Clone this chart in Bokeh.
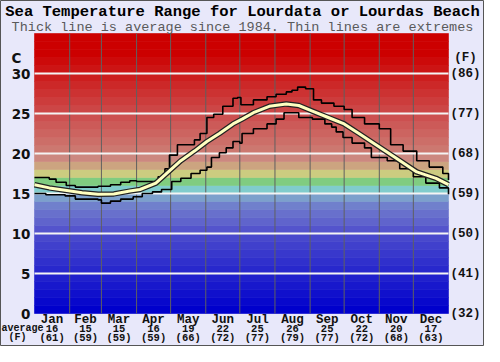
from bokeh.plotting import figure
from bokeh.models import Range1d
from bokeh.core.properties import value
from bokeh.embed import file_html
from bokeh.resources import INLINE

# ---------------- data ----------------
months = ["Jan", "Feb", "Mar", "Apr", "May", "Jun", "Jul", "Aug", "Sep", "Oct", "Nov", "Dec"]
month_days = [31, 28, 31, 30, 31, 30, 31, 31, 30, 31, 30, 31]
avg_c = [16, 15, 15, 16, 19, 22, 25, 26, 25, 22, 20, 17]
avg_f = [61, 59, 59, 59, 66, 72, 77, 79, 77, 72, 68, 63]

c_ticks = [0, 5, 10, 15, 20, 25, 30]
f_labels = ["(32)", "(41)", "(50)", "(59)", "(68)", "(77)", "(86)"]

days_max = [0, 13, 19, 28, 36, 56, 67, 76, 84, 90, 104, 109, 115, 119, 126, 141, 146,
            152, 158, 166, 175, 179, 182, 193, 205, 213, 222, 227, 232, 239, 246, 253,
            264, 273, 280, 291, 304, 314, 325, 337, 348, 360, 365]
temp_max = [17.0, 16.8, 16.4, 16.0, 15.8, 15.9, 16.1, 16.4, 16.6, 16.5, 16.5, 17.1, 18.1,
            19.8, 21.1, 21.7, 22.5, 24.5, 24.9, 25.9, 26.9, 27.0, 26.1, 26.7, 27.1, 27.4,
            27.7, 27.9, 28.3, 28.1, 26.7, 26.3, 25.9, 25.5, 24.5, 23.7, 23.1, 21.1, 20.3,
            19.1, 18.3, 17.5, 16.7]

days_min = [0, 10, 27, 36, 56, 59, 67, 76, 87, 95, 104, 112, 121, 129, 138, 146, 152,
            156, 163, 169, 175, 181, 183, 193, 205, 213, 220, 230, 233, 245, 256, 262,
            266, 272, 280, 291, 297, 311, 322, 334, 345, 357, 365]
temp_min = [15.0, 14.85, 14.7, 14.3, 14.2, 13.8, 14.05, 14.3, 14.6, 15.0, 15.2, 15.5, 16.5,
            16.9, 17.5, 17.9, 18.3, 19.5, 20.1, 20.7, 21.5, 21.3, 22.5, 23.1, 23.7, 24.3,
            25.1, 25.1, 24.5, 24.3, 23.7, 23.3, 22.7, 22.0, 21.3, 20.7, 19.5, 19.1, 18.1,
            17.1, 16.3, 15.7, 14.9]

days_avg = [0, 13, 27, 42, 56, 70, 84, 93, 107, 118, 129, 141, 152, 163, 175, 183, 193,
            207, 222, 233, 245, 259, 273, 286, 303, 320, 337, 354, 365]
temp_avg = [16.1, 15.7, 15.4, 15.1, 14.9, 14.95, 15.3, 15.5, 16.3, 17.7, 19.1, 20.3, 21.5,
            22.5, 23.7, 24.3, 25.1, 25.9, 26.2, 26.0, 25.3, 24.5, 23.7, 22.5, 20.9, 19.3,
            17.7, 16.9, 16.1]

# colour of each 1-degree band, 0..34 C
band_rgb = [(0, 0, 204), (8, 8, 204), (16, 16, 204), (24, 24, 204), (32, 32, 204),
            (40, 40, 204), (48, 48, 204), (56, 56, 204), (64, 64, 204), (72, 72, 204),
            (84, 84, 204), (96, 100, 204), (104, 112, 204), (112, 128, 204), (124, 160, 204),
            (128, 204, 204), (128, 204, 128), (204, 204, 128), (204, 164, 128), (204, 136, 128),
            (204, 120, 112), (204, 110, 104), (204, 100, 96), (204, 90, 88), (204, 80, 80),
            (204, 70, 70), (204, 60, 60), (204, 50, 50), (204, 40, 40), (204, 30, 30),
            (204, 20, 20), (204, 10, 10), (204, 0, 0), (204, 0, 0), (204, 0, 0)]

# ---------------- figure ----------------
W, H = 484, 346
L, R, T, B = 34, 36, 33, 33           # margins around the coloured area (px)
PX_X = (W - L - R) / 365.0
PX_Y = (H - T - B) / 35.0

BG = "#e8e8fa"
p = figure(width=W, height=H,
           x_range=Range1d(-L / PX_X, 365 + R / PX_X),
           y_range=Range1d(-B / PX_Y, 35 + T / PX_Y),
           x_axis_type=None, y_axis_type=None, output_backend="svg", toolbar_location=None,
           min_border_left=0, min_border_right=0, min_border_top=0, min_border_bottom=0)
p.background_fill_color = BG
p.border_fill_color = BG
p.outline_line_color = "#555555"

band_lo = list(range(len(band_rgb)))
band_hi = [b + 1 for b in band_lo]
band_col = ["#%02x%02x%02x" % c for c in band_rgb]
p.quad(left=0, right=365, bottom=band_lo, top=band_hi, fill_color=band_col,
       line_color=band_col, line_width=0.6)

bounds = [sum(month_days[:i]) for i in range(1, 12)]
p.segment(x0=bounds, y0=0, x1=bounds, y1=35, line_color="#606060", line_width=1)
p.segment(x0=0, y0=c_ticks[1:], x1=365, y1=c_ticks[1:], line_color="#f4f4f4", line_width=2)

p.step(days_max, temp_max, mode="after", line_color="black", line_width=1.6)
p.step(days_min, temp_min, mode="after", line_color="black", line_width=1.6)
p.line(days_avg, temp_avg, line_color="#222222", line_width=5.5, line_join="round")
p.line(days_avg, temp_avg, line_color="#ffffc0", line_width=3, line_join="round")

mono = value("Liberation Mono")
ink = "#111111"

# titles
cx = (W / 2.0 - L) / PX_X
p.text(x=[cx], y=[35 + 22 / PX_Y], text=["Sea Temperature Range for Lourdata or Lourdas Beach"],
       text_font=mono, text_font_style="bold", text_font_size="15.5px",
       text_align="center", text_baseline="middle", text_color="#000000")
p.text(x=[cx], y=[35 + 6.5 / PX_Y], text=["Thick line is average since 1984. Thin lines are extremes"],
       text_font=mono, text_font_size="13.5px", text_align="center",
       text_baseline="middle", text_color="#5a5a5a")

# left axis (C)
p.text(x=[-4 / PX_X] * len(c_ticks), y=c_ticks, text=[str(c) for c in c_ticks],
       text_font=value("DejaVu Sans"), text_font_style="bold", text_font_size="13.5px",
       text_align="right", text_baseline="middle", text_color=ink)
p.text(x=[-18 / PX_X], y=[32], text=["C"], text_font=value("DejaVu Sans"), text_font_style="bold",
       text_font_size="13.5px", text_align="center", text_baseline="middle", text_color=ink)

# right axis (F)
p.text(x=[365 + 2 / PX_X] * len(c_ticks), y=c_ticks, text=f_labels,
       text_font=mono, text_font_style="bold", text_font_size="12.5px",
       text_align="left", text_baseline="middle", text_color=ink)
p.text(x=[365 + 17 / PX_X], y=[32], text=["(F)"], text_font=mono, text_font_style="bold",
       text_font_size="12.5px", text_align="center", text_baseline="middle", text_color=ink)

# bottom labels
mid = [sum(month_days[:i]) + month_days[i] / 2.0 for i in range(12)]
p.text(x=mid, y=[-6 / PX_Y] * 12, text=months, text_font=mono, text_font_style="bold",
       text_font_size="12.5px", text_align="center", text_baseline="middle", text_color=ink)
p.text(x=mid, y=[-15 / PX_Y] * 12, text=[str(v) for v in avg_c], text_font=mono,
       text_font_style="bold", text_font_size="10.5px", text_align="center",
       text_baseline="middle", text_color=ink)
p.text(x=mid, y=[-24 / PX_Y] * 12, text=["(%d)" % v for v in avg_f], text_font=mono,
       text_font_style="bold", text_font_size="10.5px", text_align="center",
       text_baseline="middle", text_color=ink)
p.text(x=[-12 / PX_X], y=[-15 / PX_Y], text=["average"], text_font=mono, text_font_style="bold",
       text_font_size="10px", text_align="center", text_baseline="middle", text_color=ink)
p.text(x=[-17 / PX_X], y=[-24 / PX_Y], text=["(F)"], text_font=mono, text_font_style="bold",
       text_font_size="10px", text_align="center", text_baseline="middle", text_color=ink)

open("out.html", "w").write(file_html(p, INLINE))
